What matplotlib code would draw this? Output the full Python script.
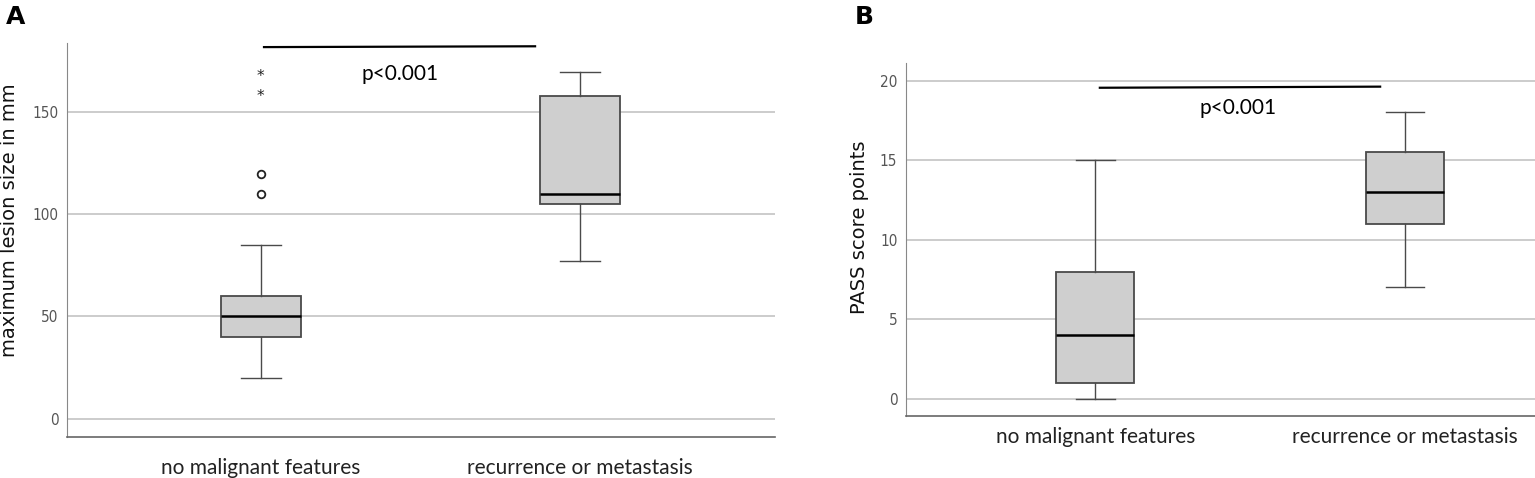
import matplotlib.pyplot as plt
from matplotlib import font_manager
from matplotlib.transforms import offset_copy

# data
groups = ["no malignant features", "recurrence or metastasis"]

# panel A: maximum lesion size (mm)
sizeWhisLo = [20, 77]
sizeQ1 = [40, 105]
sizeMed = [50, 110]
sizeQ3 = [60, 158]
sizeWhisHi = [85, 170]
sizeOutliers = [[110, 120], []]
sizeExtremes = [[160, 170], []]
sizeTicks = [0, 50, 100, 150]

# panel B: PASS score
passWhisLo = [0, 7]
passQ1 = [1, 11]
passMed = [4, 13]
passQ3 = [8, 15.5]
passWhisHi = [15, 18]
passTicks = [0, 5, 10, 15, 20]

pText = "p<0.001"

names = {f.name for f in font_manager.fontManager.ttflist}
labFont = "Lato" if "Lato" in names else "DejaVu Sans"

boxFill = "#cfcfcf"
edge = "#4a4a4a"
gridCol = "#c8c8c8"


def makeStats(lo, q1, med, q3, hi, fl=None):
    st = []
    for i in range(len(lo)):
        st.append({"whislo": lo[i], "q1": q1[i], "med": med[i], "q3": q3[i],
                   "whishi": hi[i], "fliers": fl[i] if fl else []})
    return st


def styleAx(ax, ticks, ylab, xpad, labX, labY):
    ax.set_yticks(ticks)
    ax.set_yticklabels([str(t) for t in ticks], fontfamily="DejaVu Sans",
                       fontstretch="condensed", fontsize=11, color="#555555")
    ax.set_xticks([1, 2])
    ax.set_xticklabels(groups, fontfamily=labFont, fontsize=15, color="#222222")
    ax.tick_params(axis="both", length=0)
    ax.tick_params(axis="x", pad=xpad)
    ax.tick_params(axis="y", pad=6)
    for s in ["top", "right"]:
        ax.spines[s].set_visible(False)
    ax.spines["left"].set_color("#888888")
    ax.spines["bottom"].set_color("#666666")
    ax.spines["bottom"].set_linewidth(1.2)
    ax.yaxis.grid(True, color=gridCol, linewidth=1.3)
    ax.set_axisbelow(True)
    ax.set_ylabel(ylab, fontfamily="DejaVu Sans", fontsize=14, color="#111111")
    ax.yaxis.set_label_coords(labX, labY)


fig = plt.figure(figsize=(15.35, 4.78), dpi=100)
axA = fig.add_axes([0.0436, 0.086, 0.461, 0.824])
axB = fig.add_axes([0.590, 0.130, 0.410, 0.738])

boxKw = dict(widths=0.25, patch_artist=True, showfliers=True,
             boxprops=dict(facecolor=boxFill, edgecolor=edge, linewidth=1.3),
             medianprops=dict(color="black", linewidth=1.8),
             whiskerprops=dict(color=edge, linewidth=1.0),
             capprops=dict(color=edge, linewidth=1.0),
             flierprops=dict(marker="o", markerfacecolor="none", markeredgecolor="#222222",
                             markersize=5.5, markeredgewidth=1.3))

# panel A
axA.bxp(makeStats(sizeWhisLo, sizeQ1, sizeMed, sizeQ3, sizeWhisHi, sizeOutliers),
        positions=[1, 2], **boxKw)
starTrans = offset_copy(axA.transData, fig=fig, x=0, y=-3.5, units="points")
for i, ex in enumerate(sizeExtremes):
    for v in ex:
        axA.text(i + 1, v, "*", ha="center", va="center", fontsize=11,
                 fontfamily="DejaVu Sans", color="#222222", transform=starTrans)
axA.set_xlim(0.392, 2.611)
axA.set_ylim(-9, 184)
styleAx(axA, sizeTicks, "maximum lesion size in mm", 15, -0.068, 0.55)
axA.plot([1.01, 1.86], [182, 182.4], color="black", linewidth=1.6, clip_on=False)
axA.text(1.436, 169, pText, ha="center", va="center", fontfamily=labFont, fontsize=15)

# panel B
axB.bxp(makeStats(passWhisLo, passQ1, passMed, passQ3, passWhisHi), positions=[1, 2], **boxKw)
axB.set_xlim(0.388, 2.42)
axB.set_ylim(-1.07, 21.1)
styleAx(axB, passTicks, "PASS score points", 8, -0.059, 0.535)
axB.plot([1.015, 1.92], [19.55, 19.62], color="black", linewidth=1.6)
axB.text(1.46, 18.3, pText, ha="center", va="center", fontfamily=labFont, fontsize=15)

fig.text(0.004, 0.965, "A", fontsize=18, fontweight="bold", va="center", ha="left")
fig.text(0.557, 0.965, "B", fontsize=18, fontweight="bold", va="center", ha="left")

fig.savefig("out.png", dpi=100)
